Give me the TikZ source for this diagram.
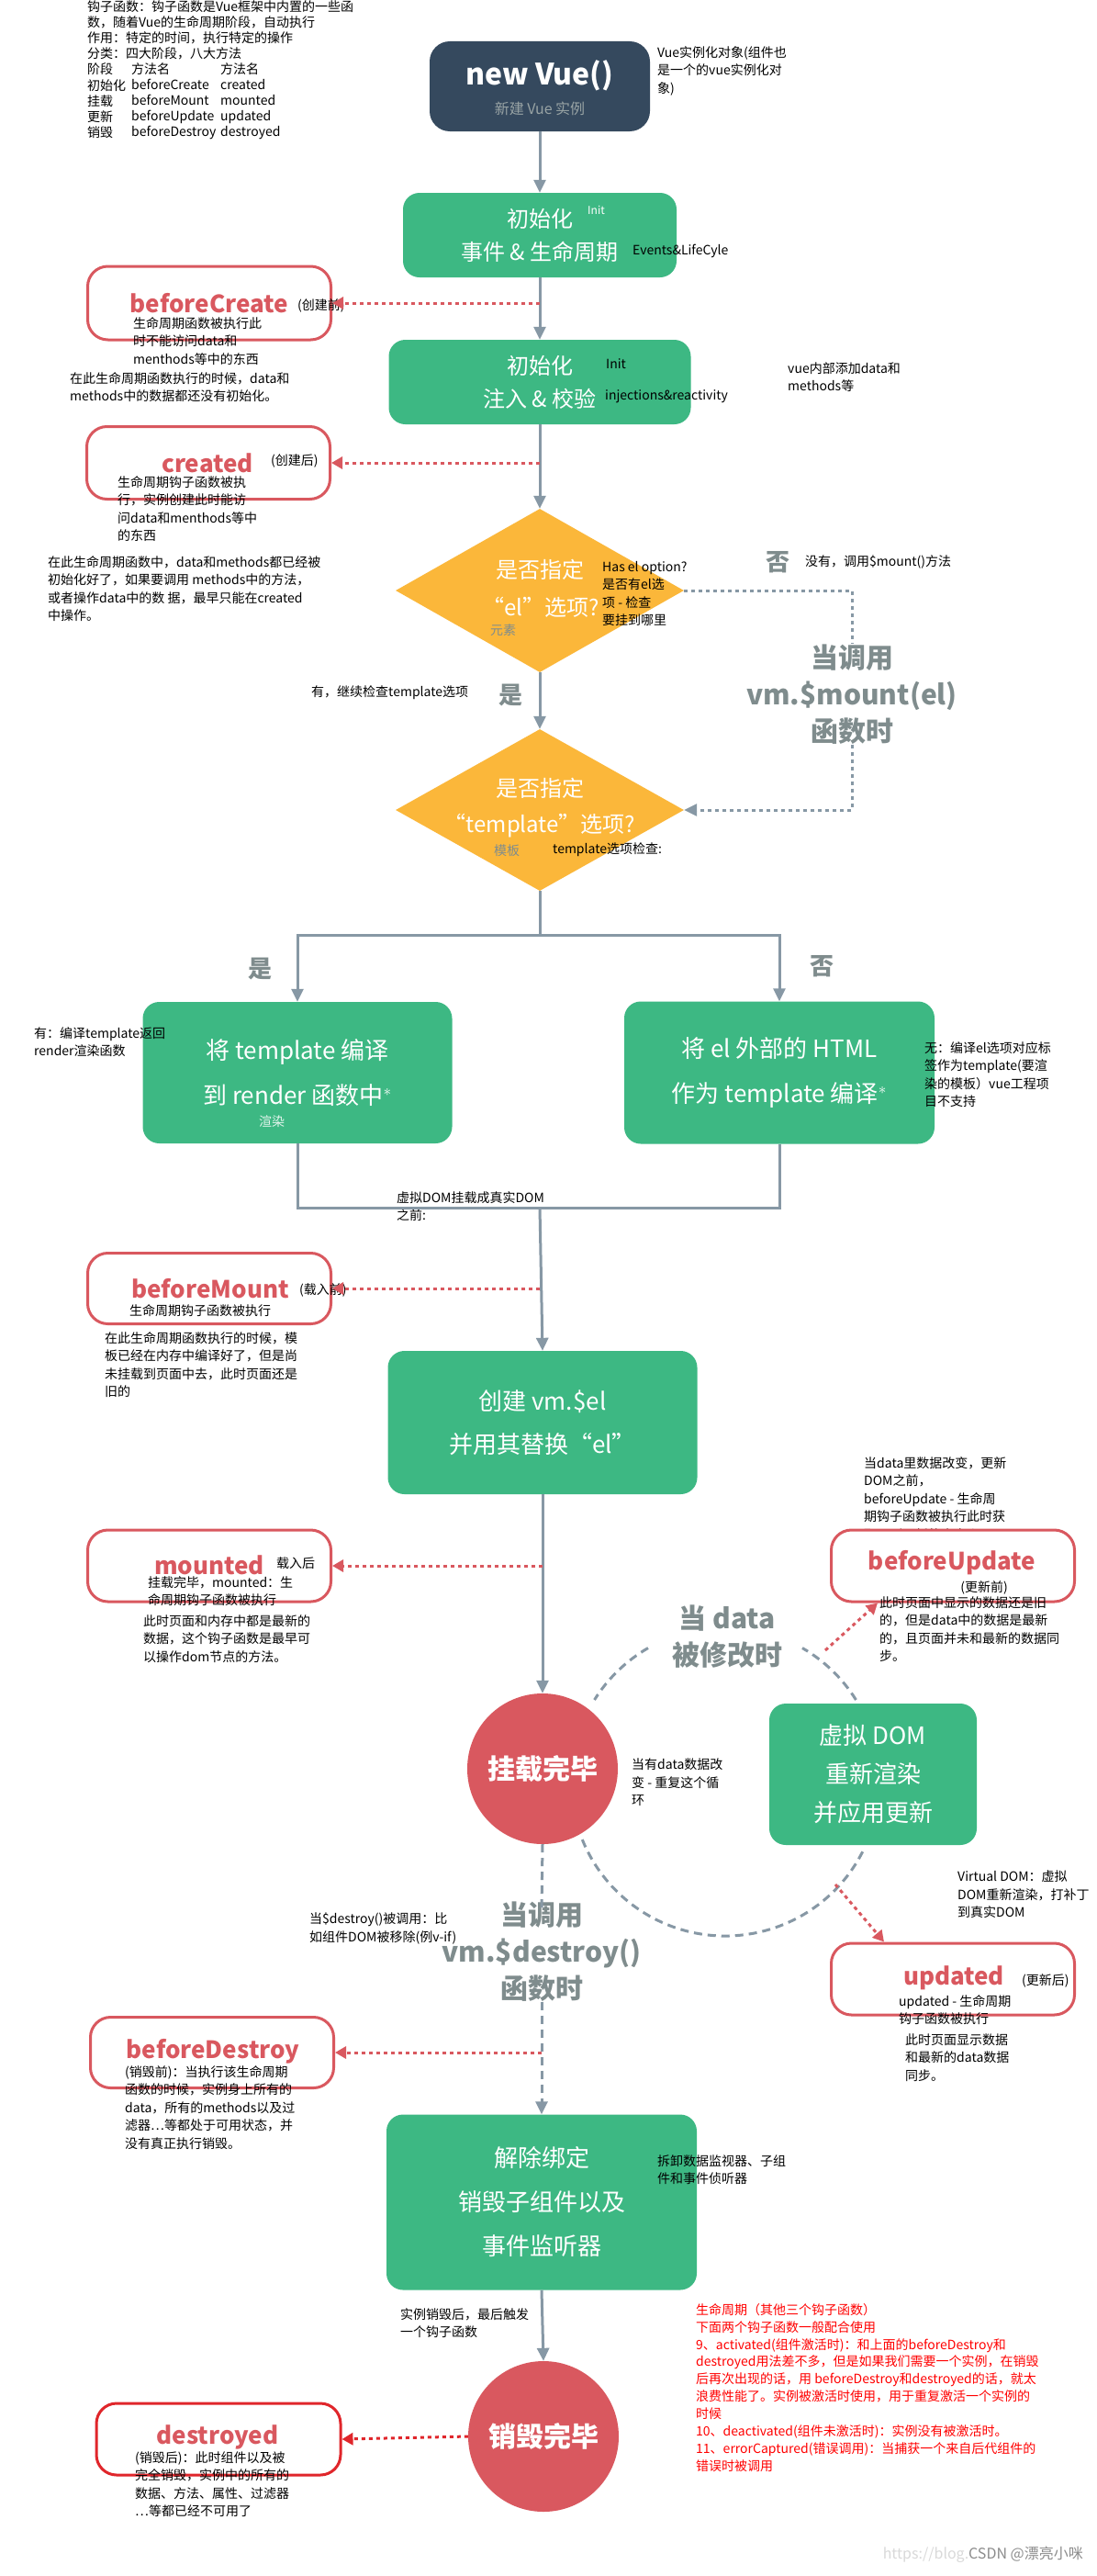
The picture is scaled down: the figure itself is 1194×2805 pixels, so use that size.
\documentclass[tikz,border=0pt]{standalone}
\usepackage{fontspec}
\setmainfont{Noto Sans CJK SC}
\usepackage{tikz}
\usetikzlibrary{shapes.geometric}
\usetikzlibrary{arrows.meta}
\definecolor{vgreen}{HTML}{3DB883}
\definecolor{vdark}{HTML}{35495E}
\definecolor{vorange}{HTML}{FBB73A}
\definecolor{hred}{HTML}{D9585F}
\definecolor{dred}{HTML}{E0262B}
\definecolor{lgrey}{HTML}{8798A5}
\definecolor{tgrey}{HTML}{7F8C8D}
\newcommand{\fs}[2]{\fontsize{#1}{#2}\selectfont}
\tikzset{
  box/.style={rectangle, rounded corners=18pt, fill=vgreen, text=white, align=center, inner sep=0},
  hook/.style={rectangle, rounded corners=22pt, draw=hred, line width=3pt, fill=white},
  ttl/.style={text=hred, font=\fs{26}{30}\bfseries, inner sep=0},
  note/.style={font=\fs{14}{19.5}, align=left, anchor=north west, inner sep=0},
  flow/.style={draw=lgrey, line width=3pt, -{Triangle[length=14pt,width=13pt]}},
  flowline/.style={draw=lgrey, line width=3pt},
  hookarrow/.style={draw=hred, line width=3pt, dash pattern=on 4pt off 4pt, -{Triangle[length=12pt,width=13pt]}},
  gdash/.style={draw=lgrey, line width=3pt, dash pattern=on 9pt off 6pt},
  bigg/.style={text=tgrey, font=\fs{30}{40}\bfseries, align=center, inner sep=0},
}
\begin{document}
\begin{tikzpicture}[x=1pt,y=-1pt]
\useasboundingbox[fill=white] (0,0) rectangle (1194,2805);
% summary at the top left
\node[note, font=\fs{14}{17.2}] (sum) at (95,0) {钩子函数：钩子函数是Vue框架中内置的一些函\\数，随着Vue的生命周期阶段，自动执行\\作用：特定的时间，执行特定的操作\\分类：四大阶段，八大方法\\阶段\\初始化\\挂载\\更新\\销毁};
\node[note, font=\fs{14}{17.2}] (sumb) at (143,68) {方法名\\beforeCreate\\beforeMount\\beforeUpdate\\beforeDestroy};
\node[note, font=\fs{14}{17.2}] (sumc) at (240,68) {方法名\\created\\mounted\\updated\\destroyed};

% new Vue
\node[box, fill=vdark, rounded corners=22pt, minimum width=240pt, minimum height=98pt] (nv) at (588,94) {};
\node[text=white, font=\fs{32}{36}\bfseries, inner sep=0] (nvt) at (588,82) {new Vue()};
\node[text=tgrey!80, font=\fs{16}{20}, inner sep=0] (nvs) at (588,118) {新建 Vue 实例};
\node[note] (nvn) at (716,50) {Vue实例化对象(组件也\\是一个的vue实例化对\\象)};

% init
\node[box, minimum width=298pt, minimum height=92pt, font=\fs{24}{36}] (init1) at (588,256) {初始化\\事件 \& 生命周期};
\node[text=white, font=\fs{12}{14}, anchor=west, inner sep=0] (i1a) at (640,229) {Init};
\node[font=\fs{14}{16}, anchor=west, inner sep=0] (i1b) at (689,273) {Events\&LifeCyle};
\node[box, minimum width=329pt, minimum height=92pt, font=\fs{24}{36}] (init2) at (588,416) {初始化\\注入 \& 校验};
\node[font=\fs{14}{16}, anchor=west, inner sep=0] (i2a) at (660,396) {Init};
\node[font=\fs{14}{16}, anchor=west, inner sep=0] (i2b) at (659,432) {injections\&reactivity};
\node[note] (i2n) at (858,394) {vue内部添加data和\\methods等};

% beforeCreate / created
\node[hook, minimum width=265pt, minimum height=80pt] (bc) at (228,330) {};
\node[ttl] (bct) at (228,330) {beforeCreate};
\node[font=\fs{14}{16}, anchor=west, inner sep=0] (bcs) at (324,333) {(创建前)};
\node[note] (bcn) at (145,345) {生命周期函数被执行此\\时不能访问data和\\menthods等中的东西};
\node[note] (bcm) at (76,405) {在此生命周期函数执行的时候，data和\\methods中的数据都还没有初始化。};
\node[hook, minimum width=265pt, minimum height=79pt] (cr) at (227,504) {};
\node[ttl] (crt) at (226,504) {created};
\node[font=\fs{14}{16}, anchor=west, inner sep=0] (crs) at (295,502) {(创建后)};
\node[note] (crn) at (128,518) {生命周期钩子函数被执\\行，实例创建此时能访\\问data和menthods等中\\的东西};
\node[note] (crm) at (52,605) {在此生命周期函数中，data和methods都已经被\\初始化好了，如果要调用 methods中的方法，\\或者操作data中的数 据，最早只能在created\\中操作。};

% el option
\node[diamond, fill=vorange, minimum width=314pt, minimum height=178pt, inner sep=0] (d1) at (588,643) {};
\node[text=white, font=\fs{24}{28}, inner sep=0] (d1a) at (588,620) {是否指定};
\node[text=white, font=\fs{24}{28}, inner sep=0] (d1b) at (589,661) {“el”选项?};
\node[text=tgrey, font=\fs{14}{16}, inner sep=0] (d1c) at (548,686) {元素};
\node[note] (d1n) at (656,611) {Has el option?\\是否有el选\\项 - 检查\\要挂到哪里};
\node[text=tgrey, font=\fs{26}{30}\bfseries, inner sep=0] (no1) at (847,612) {否};
\node[font=\fs{14}{16}, anchor=west, inner sep=0] (no1n) at (877,612) {没有，调用\$mount()方法};
\node[bigg, font=\fs{30}{40}\bfseries] (mnt) at (928,756) {当调用\\vm.\$mount(el)\\函数时};
\node[note] (yes1n) at (339,746) {有，继续检查template选项};
\node[text=tgrey, font=\fs{26}{30}\bfseries, inner sep=0] (yes1) at (556,757) {是};

% template option
\node[diamond, fill=vorange, minimum width=314pt, minimum height=176pt, inner sep=0] (d2) at (588,882) {};
\node[text=white, font=\fs{24}{28}, inner sep=0] (d2a) at (588,858) {是否指定};
\node[text=white, font=\fs{24}{28}, inner sep=0] (d2b) at (588,899) {“template”选项?};
\node[text=tgrey, font=\fs{14}{16}, inner sep=0] (d2c) at (552,926) {模板};
\node[font=\fs{14}{16}, anchor=west, inner sep=0] (d2n) at (602,925) {template选项检查:};
\node[text=tgrey, font=\fs{26}{30}\bfseries, inner sep=0] (yes2) at (283,1055) {是};
\node[text=tgrey, font=\fs{26}{30}\bfseries, inner sep=0] (no2) at (895,1052) {否};

% compile boxes
\node[box, minimum width=337pt, minimum height=154pt, font=\fs{26}{49}] (tl) at (324,1168) {将 template 编译\\到 render 函数中$^{*}$};
\node[text=white!85!vgreen, font=\fs{14}{16}, inner sep=0] (tls) at (296,1221) {渲染};
\node[note] (tln) at (37,1118) {有：编译template返回\\render渲染函数};
\node[box, minimum width=338pt, minimum height=155pt, font=\fs{26}{49}] (tr) at (849,1168) {将 el 外部的 HTML\\作为 template 编译$^{*}$};
\node[note] (trn) at (1007,1134) {无：编译el选项对应标\\签作为template(要渲\\染的模板）vue工程项\\目不支持};
\node[note] (mgn) at (432,1297) {虚拟DOM挂载成真实DOM\\之前:};

% beforeMount
\node[hook, minimum width=265pt, minimum height=77pt] (bm) at (228,1403) {};
\node[ttl] (bmt) at (229,1403) {beforeMount};
\node[font=\fs{14}{16}, anchor=west, inner sep=0] (bms) at (326,1405) {(载入前)};
\node[font=\fs{14}{16}, anchor=west, inner sep=0] (bmn) at (141,1427) {生命周期钩子函数被执行};
\node[note] (bmm) at (114,1450) {在此生命周期函数执行的时候，模\\板已经在内存中编译好了，但是尚\\未挂载到页面中去，此时页面还是\\旧的};

% create el
\node[box, minimum width=337pt, minimum height=156pt, font=\fs{26}{47}] (el) at (591,1549) {创建 vm.\$el\\并用其替换“el”};

% mounted
\node[hook, minimum width=265pt, minimum height=78pt] (mt) at (228,1705) {};
\node[ttl] (mtt) at (228,1704) {mounted};
\node[font=\fs{14}{16}, anchor=west, inner sep=0] (mts) at (301,1702) {载入后};
\node[note] (mtn) at (161,1716) {挂载完毕，mounted：生\\命周期钩子函数被执行};
\node[note] (mtm) at (156,1758) {此时页面和内存中都是最新的\\数据，这个钩子函数是最早可\\以操作dom节点的方法。};

% mounted circle and update loop
\node[circle, fill=hred, minimum size=164pt, inner sep=0, text=white, font=\fs{30}{34}\bfseries] (mc) at (591,1926) {挂载完毕};
\draw[gdash] (790,1940) ++(-120:168) arc[start angle=-120, end angle=-148, radius=168];
\draw[gdash] (790,1940) ++(-32:168) arc[start angle=-32, end angle=-60, radius=168];
\draw[gdash] (790,1940) ++(27:168) arc[start angle=27, end angle=158, radius=168];
\node[bigg] (chg) at (792,1782) {当 data\\被修改时};
\node[box, minimum width=226pt, minimum height=154pt, font=\fs{26}{42}] (vd) at (951,1932) {虚拟 DOM\\重新渲染\\并应用更新};
\node[note] (loop) at (688,1915) {当有data数据改\\变 - 重复这个循\\环};
\node[note] (vdn) at (1043,2037) {Virtual DOM：虚拟\\DOM重新渲染，打补丁\\到真实DOM};

% beforeUpdate / updated
\node[note] (bun) at (941,1586) {当data里数据改变，更新\\DOM之前，\\beforeUpdate - 生命周\\期钩子函数被执行此时获\\取不到更新的真实dom};
\node[hook, minimum width=265pt, minimum height=78pt] (bu) at (1038,1705) {};
\node[ttl] (but) at (1037,1702) {beforeUpdate};
\node[font=\fs{14}{16}, inner sep=0] (bus) at (1072,1729) {(更新前)};
\node[note] (bum) at (958,1738) {此时页面中显示的数据还是旧\\的，但是data中的数据是最新\\的，且页面并未和最新的数据同\\步。};
\node[hook, minimum width=265pt, minimum height=78pt] (ud) at (1038,2155) {};
\node[ttl] (udt) at (1039,2154) {updated};
\node[font=\fs{14}{16}, anchor=west, inner sep=0] (uds) at (1113,2157) {(更新后)};
\node[note] (udn) at (979,2172) {updated - 生命周期\\钩子函数被执行};
\node[note] (udm) at (986,2214) {此时页面显示数据\\和最新的data数据\\同步。};
\coordinate (buA) at (899,1797);
\coordinate (udA) at (910,2052);

% destroy
\node[bigg] (dsy) at (590,2125) {当调用\\vm.\$destroy()\\函数时};
\node[note] (dsn) at (337,2083) {当\$destroy()被调用：比\\如组件DOM被移除(例v-if)};
\node[hook, minimum width=265pt, minimum height=77pt] (bd) at (231,2235) {};
\node[ttl] (bdt) at (232,2234) {beforeDestroy};
\node[note] (bdn) at (136,2249) {(销毁前)：当执行该生命周期\\函数的时候，实例身上所有的\\data，所有的methods以及过\\滤器…等都处于可用状态，并\\没有真正执行销毁。};
\node[box, minimum width=338pt, minimum height=191pt, font=\fs{26}{48}] (db) at (590,2398) {解除绑定\\销毁子组件以及\\事件监听器};
\node[note] (dbn) at (716,2346) {拆卸数据监视器、子组\\件和事件侦听器};
\node[note] (dbm) at (436,2513) {实例销毁后，最后触发\\一个钩子函数};
\node[circle, fill=hred, minimum size=164pt, inner sep=0, text=white, font=\fs{30}{34}\bfseries] (dc) at (592,2653) {销毁完毕};
\node[hook, draw=dred, minimum width=266pt, minimum height=78pt] (dd) at (238,2656) {};
\node[ttl] (ddt) at (237,2654) {destroyed};
\node[note] (ddn) at (147,2669) {(销毁后)：此时组件以及被\\完全销毁，实例中的所有的\\数据、方法、属性、过滤器\\…等都已经不可用了};
\node[note, text=red, font=\fs{14}{18.9}] (extra) at (758,2508) {生命周期（其他三个钩子函数）\\下面两个钩子函数一般配合使用\\9、activated(组件激活时)：和上面的beforeDestroy和\\destroyed用法差不多，但是如果我们需要一个实例，在销毁\\后再次出现的话，用 beforeDestroy和destroyed的话，就太\\浪费性能了。实例被激活时使用，用于重复激活一个实例的\\时候\\10、deactivated(组件未激活时)：实例没有被激活时。\\11、errorCaptured(错误调用)：当捕获一个来自后代组件的\\错误时被调用};
\node[text=black!45, font=\fs{16}{18}, anchor=east, inner sep=0] (wm) at (1180,2782) {\textcolor{black!15}{https://blog.}CSDN @漂亮小咪};

% connectors
\draw[flow] (nv) -- (init1);
\draw[flow] (init1) -- (init2);
\draw[flow] (init2) -- (d1.north);
\draw[flow] (d1.south) -- (d2.north);
\draw[hookarrow] (init1.south |- bc) -- (bc.east);
\draw[hookarrow] (init2.south |- cr) -- (cr.east);
\draw[gdash, dash pattern=on 4pt off 4pt] (d1.east) -| (mnt.north);
\draw[gdash, dash pattern=on 4pt off 4pt, -{Triangle[length=14pt,width=13pt]}] (mnt.south) |- (d2.east);
\coordinate (jt) at (588,1018);
\coordinate (jb) at (588,1315);
\draw[flowline] (d2.south) -- (jt);
\draw[flow] (jt) -| (tl.north);
\draw[flow] (jt) -| (tr.north);
\draw[flowline] (tl.south) |- (jb);
\draw[flowline] (tr.south) |- (jb);
\draw[flow] (jb) -- (el.north);
\draw[hookarrow] (jb |- bm) -- (bm.east);
\draw[flow] (el.south) -- (mc.north);
\draw[hookarrow] (el.south |- mt) -- (mt.east);
\draw[hookarrow] (buA) -- ([xshift=-82pt]bu.south);
\draw[hookarrow] (udA) -- ([xshift=-75pt]ud.north);
\draw[gdash, dash pattern=on 9pt off 6pt] (mc.south) -- ([yshift=-8pt]dsy.north);
\draw[gdash, dash pattern=on 9pt off 6pt, -{Triangle[length=14pt,width=13pt]}] (dsy.south) -- (db.north);
\draw[hookarrow] (dsy.south |- bd) -- (bd.east);
\draw[flow] (db.south) -- (dc.north);
\draw[hookarrow, draw=dred] (dc.west) -- (dd.east);
\end{tikzpicture}
\end{document}
